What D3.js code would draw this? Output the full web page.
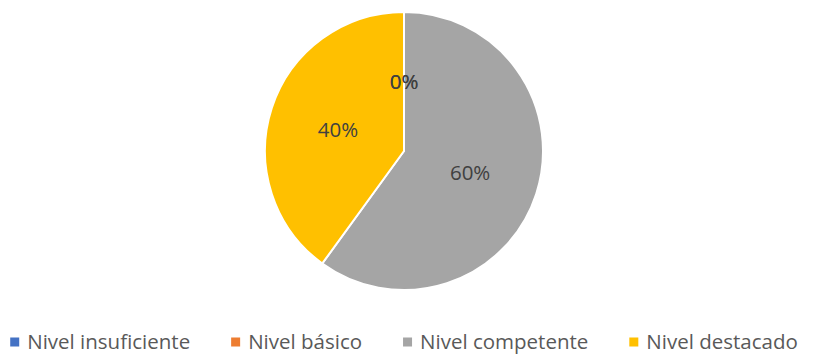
<!DOCTYPE html>
<html>
<head>
<meta charset="utf-8">
<script src="https://cdn.jsdelivr.net/npm/d3@7"></script>
<style>
  body { margin: 0; background: #fff; }
  text { font-family: "Open Sans", "Noto Sans", sans-serif; }
</style>
</head>
<body>
<svg id="chart" width="813" height="354"></svg>
<script>
// categories and their share of the total
const categories = ["Nivel insuficiente", "Nivel básico", "Nivel competente", "Nivel destacado"];
const values = [0, 0, 60, 40];
const colors = ["#4472C4", "#ED7D31", "#A5A5A5", "#FFC000"];

let svg = d3.select("#chart");
let cx = 404, cy = 151, radius = 139;

let data = categories.map((c, i) => ({name: c, value: values[i]}));
let total = d3.sum(values);

let pie = d3.pie().sort(null).value(d => d.value);
let arc = d3.arc().innerRadius(0).outerRadius(radius);
let labelArc = d3.arc().innerRadius(radius * 0.5).outerRadius(radius * 0.5);

let color = d3.scaleOrdinal().domain(categories).range(colors);

let g = svg.append("g").attr("transform", `translate(${cx}, ${cy})`);
let arcs = pie(data);

g.selectAll("path")
    .data(arcs)
    .enter().append("path")
    .attr("d", arc)
    .attr("fill", d => color(d.data.name))
    .attr("stroke", "#fff")
    .attr("stroke-width", 2)
    .attr("stroke-linejoin", "round");

// percent labels (the two 0% labels land on top of each other)
g.selectAll("text.pct")
    .data(arcs)
    .enter().append("text")
    .attr("class", "pct")
    .attr("transform", d => `translate(${labelArc.centroid(d)})`)
    .attr("text-anchor", "middle")
    .attr("dy", "0.35em")
    .attr("font-size", 20.5)
    .attr("fill", "#404040")
    .text(d => d3.format(".0%")(d.data.value / total));

// legend, laid out from measured text widths and centred under the pie
const SQ = 9, GAP = 8, ITEM_GAP = 41;
let legend = svg.append("g").attr("transform", "translate(0, 342)");
let items = legend.selectAll("g")
    .data(categories)
    .enter().append("g");
items.append("rect")
    .attr("y", -SQ / 2)
    .attr("width", SQ)
    .attr("height", SQ)
    .attr("fill", d => color(d));
items.append("text")
    .attr("x", SQ + GAP)
    .attr("dy", "0.35em")
    .attr("font-size", 20.5)
    .attr("fill", "#595959")
    .text(d => d);

let widths = [];
items.select("text").each(function() { widths.push(this.getComputedTextLength()); });
let totalW = d3.sum(widths, w => SQ + GAP + w) + ITEM_GAP * (widths.length - 1);
let x = cx - totalW / 2;
items.attr("transform", (d, i) => {
    let t = `translate(${x}, 0)`;
    x += SQ + GAP + widths[i] + ITEM_GAP;
    return t;
});
</script>
</body>
</html>
